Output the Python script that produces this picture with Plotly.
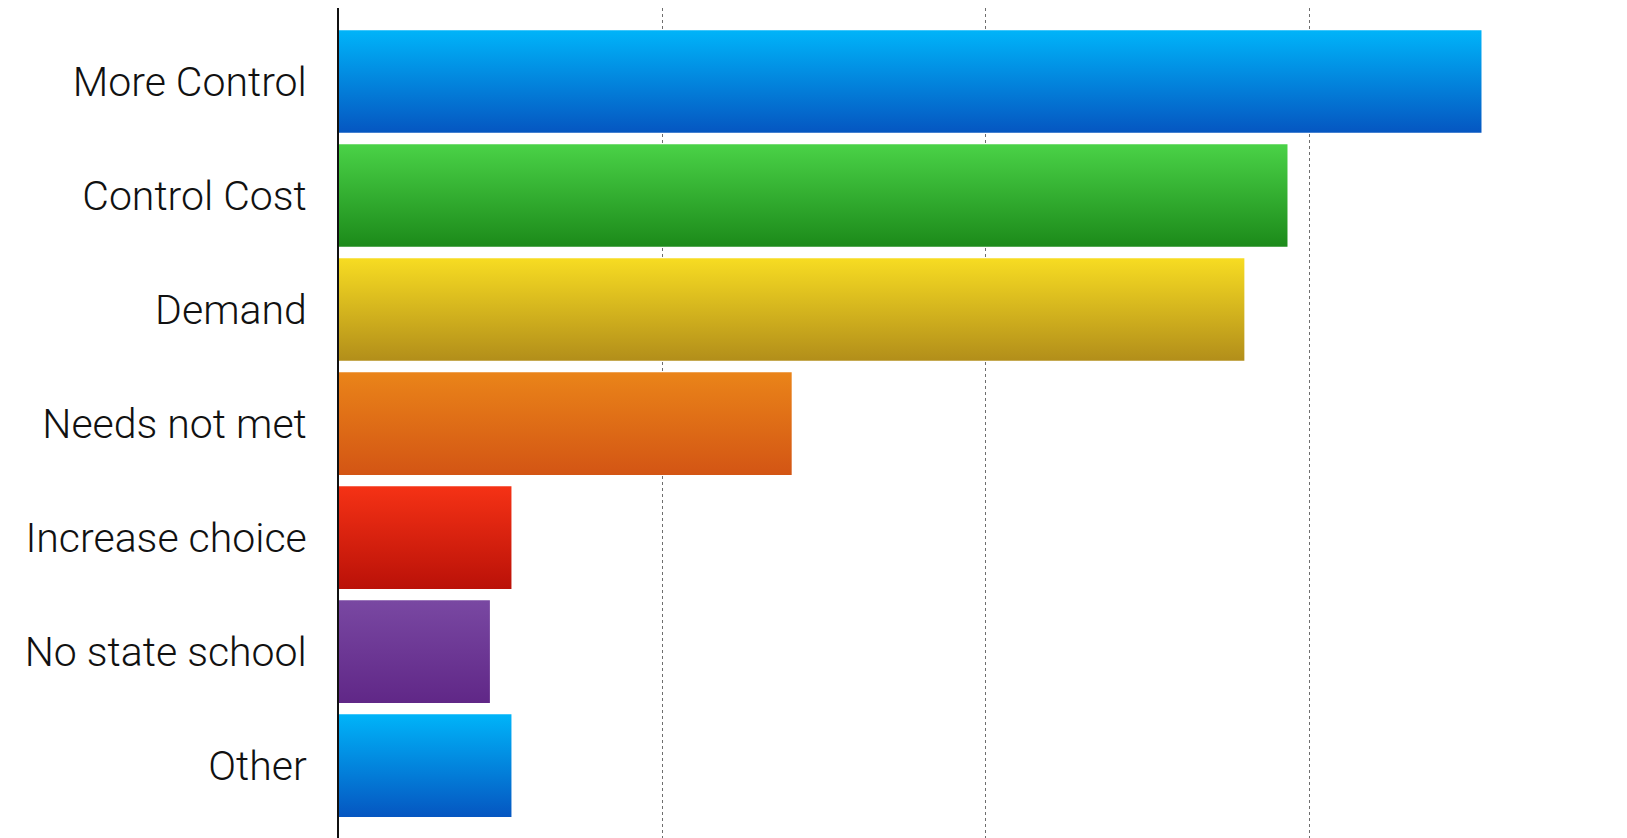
import plotly.graph_objects as go

categories = ["More Control", "Control Cost", "Demand", "Needs not met",
              "Increase choice", "No state school", "Other"]
values = [53, 44, 42, 21, 8, 7, 8]
top_colors = ["#00b4f9", "#4ad247", "#f7dc22", "#ea8419", "#f53215", "#7948a2", "#00b4f9"]
bottom_colors = ["#0556c1", "#1c8a1a", "#b28e1a", "#d35514", "#ba1108", "#602787", "#0556c1"]
grid_ticks = [15, 30, 45]

n = len(categories)
half = 0.45
fig = go.Figure()
for i, (cat, v, ct, cb) in enumerate(zip(categories, values, top_colors, bottom_colors)):
    y = n - 1 - i
    fig.add_trace(go.Scatter(
        x=[0, v, v, 0, 0],
        y=[y - half, y - half, y + half, y + half, y - half],
        mode="lines",
        fill="toself",
        fillgradient=dict(type="vertical", colorscale=[[0, cb], [1, ct]]),
        line=dict(width=0),
        hoverinfo="text",
        text=f"{cat}: {v}",
        showlegend=False,
    ))

fig.update_layout(
    width=1619, height=830,
    margin=dict(l=331, r=0, t=0, b=0),
    paper_bgcolor="white",
    plot_bgcolor="white",
    font=dict(family="Helvetica Neue, Roboto, Lato, sans-serif", weight=300, color="#111111", size=41),
)
fig.update_xaxes(
    range=[0, 59.75],
    tickvals=grid_ticks,
    showticklabels=False,
    showgrid=True,
    gridcolor="#6e6e6e",
    gridwidth=1,
    griddash="dot",
    zeroline=False,
    showline=False,
    fixedrange=True,
)
fig.update_yaxes(
    range=[-0.635, n - 1 + 0.645],
    tickvals=list(range(n - 1, -1, -1)),
    ticktext=categories,
    showgrid=False,
    zeroline=False,
    showline=True,
    linecolor="#111111",
    linewidth=2,
    ticks="",
    ticklabelstandoff=22,
    tickfont=dict(size=41, weight=300),
    fixedrange=True,
)

fig.write_html("out.html")
